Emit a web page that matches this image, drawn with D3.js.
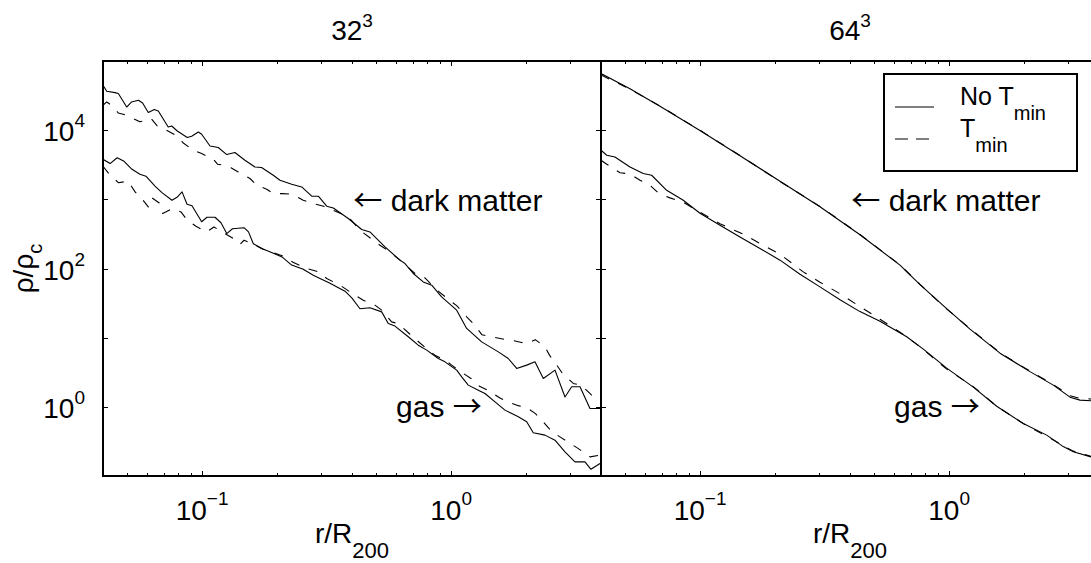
<!DOCTYPE html>
<html>
<head>
<meta charset="utf-8">
<script src="https://cdn.jsdelivr.net/npm/d3@7"></script>
<style>
  body { margin: 0; background: #fff; }
  svg { display: block; }
  text { font-family: "Liberation Sans", Arial, Helvetica, sans-serif; fill: #000; }
  .arrow { font-family: "Noto Sans CJK JP", "DejaVu Sans", sans-serif; }
</style>
</head>
<body>
<svg id="chart" width="1091" height="563"></svg>
<script>
// ---- Density profiles rho/rho_c against r/R200 ----

// 32^3 run: dark matter, no temperature floor
const r32DmNoTmin = [0.0400,0.0414,0.0447,0.0461,0.0498,0.0521,0.0555,0.0577,0.0608,0.0643,0.0667,0.0731,0.0755,0.0795,0.0872,0.0908,0.0966,0.0996,0.1076,0.1161,0.1256,0.1355,0.1486,0.1630,0.1734,0.1845,0.1932,0.2055,0.229,0.2512,0.2756,0.293,0.3166,0.3365,0.3865,0.4375,0.4721,0.5427,0.6235,0.653,0.705,0.773,0.836,0.916,1.053,1.155,1.327,1.548,1.697,1.834,2.012,2.172,2.346,2.614,2.867,3.050,3.294,3.612,3.963];
const rho32DmNoTmin = [44600,36500,34900,33800,21600,25600,27000,24700,18000,19900,18900,11100,11500,9730,7820,8170,9420,8730,5910,5610,4440,4750,3670,2940,2880,2490,2230,1890,1650,1510,1110,1110,795,751,528,366,338,205,132,118,84.7,64.0,57.4,38.9,25.0,13.6,8.70,6.23,5.00,3.59,4.01,4.47,2.57,3.39,1.39,1.95,1.95,0.948,0.948];

// 32^3 run: dark matter, with temperature floor
const r32DmTmin = [0.0400,0.0414,0.0433,0.0461,0.0498,0.0563,0.0599,0.0624,0.0659,0.0716,0.0802,0.0838,0.0922,0.0996,0.1109,0.1153,0.1225,0.1306,0.1397,0.1557,0.1656,0.1817,0.1932,0.2094,0.229,0.2548,0.2796,0.3166,0.3365,0.3865,0.4306,0.518,0.5512,0.6235,0.716,0.7857,0.8617,1.0055,1.053,1.155,1.2279,1.331,1.455,1.646,1.789,2.012,2.178,2.383,2.484,2.656,2.802,3.096,3.346,3.670,3.963];
const rho32DmTmin = [22900,25600,22900,17700,16400,13200,14100,14700,11600,10100,8030,6580,5120,4590,3800,3220,3110,2860,2490,2000,1600,1400,1210,1210,1190,971,869,776,696,557,357,217,188,132,84.7,73.1,51.4,32.9,29.0,20.0,16.0,11.0,10.3,9.42,9.05,8.19,9.36,7.36,5.59,4.01,3.04,2.18,2.03,1.48,1.54];

// 32^3 run: gas, no temperature floor
const r32GasNoTmin = [0.0400,0.0427,0.0456,0.0486,0.0523,0.0563,0.0595,0.0647,0.069,0.0757,0.0793,0.0831,0.0870,0.0911,0.0996,0.1046,0.1127,0.1191,0.1256,0.1325,0.1474,0.1536,0.1606,0.1748,0.1944,0.2094,0.229,0.2548,0.2796,0.2975,0.3263,0.3749,0.400,0.4306,0.4721,0.5263,0.5594,0.5951,0.673,0.738,0.798,0.8884,0.945,1.053,1.103,1.172,1.286,1.368,1.501,1.646,1.862,2.012,2.138,2.383,2.614,2.867,3.145,3.449,3.646,3.963];
const rho32GasNoTmin = [3800,3290,3990,3550,2720,2310,2160,1550,1250,971,1070,1280,849,809,474,551,551,459,320,376,389,338,228,193,165,147,112,97.7,80.0,71.7,61.3,47.0,37.2,26.2,27.1,23.6,16.0,14.7,10.3,7.79,6.60,5.00,4.47,3.39,2.71,2.06,1.74,1.56,1.18,0.896,0.717,0.607,0.421,0.390,0.330,0.224,0.160,0.160,0.125,0.152];

// 32^3 run: gas, with temperature floor
const r32GasTmin = [0.0400,0.0424,0.0461,0.0505,0.0538,0.0572,0.0608,0.0627,0.0673,0.0695,0.0762,0.0823,0.0872,0.0945,0.1043,0.1116,0.1225,0.1377,0.142,0.1474,0.1601,0.1756,0.1963,0.2113,0.2318,0.263,0.2975,0.3166,0.358,0.4111,0.444,0.4947,0.5263,0.5772,0.6137,0.6838,0.7276,0.8097,0.8617,0.945,1.0055,1.119,1.202,1.306,1.407,1.572,1.677,1.862,2.012,2.182,2.346,2.542,2.737,3.003,3.233,3.612,3.963];
const rho32GasTmin = [3010,2310,1740,1830,1280,1030,776,1060,887,623,736,658,499,408,338,399,324,256,224,256,224,190,166,151,123,100,88.4,71.7,57.4,41.1,34.8,29.5,25.0,16.9,16.0,11.2,9.20,6.60,5.59,4.73,4.01,3.04,2.57,1.96,1.74,1.34,1.19,1.04,0.974,0.798,0.607,0.435,0.368,0.296,0.251,0.189,0.200];

// 64^3 run: dark matter (both runs sampled at the same radii)
const r64Dm = [0.0400,0.0523,0.0690,0.0999,0.1446,0.2094,0.3030,0.4387,0.635,0.7642,0.9627,1.213,1.601,2.113,2.621,3.059,3.355,4.0];
const rho64DmNoTmin = [65800,39600,22100,9870,4270,1830,782,308,112,58.3,27.6,13.3,5.97,3.23,2.06,1.38,1.25,1.21];
const rho64DmTmin = [63000,39000,22400,9950,4300,1810,790,310,113,59.0,27.2,13.6,6.05,3.28,2.10,1.45,1.32,1.28];

// 64^3 run: gas, no temperature floor
const r64GasNoTmin = [0.0400,0.0422,0.0455,0.0523,0.0591,0.0639,0.0734,0.0856,0.0999,0.1202,0.1446,0.1740,0.2094,0.2519,0.3030,0.3646,0.4387,0.5278,0.6756,0.7879,0.978,1.251,1.553,1.986,2.466,2.874,3.153,3.715,4.0];
const rho64GasNoTmin = [5120,4340,4100,2940,2360,2230,1350,971,630,423,286,195,132,82.7,54.2,35.4,23.8,17.3,10.3,6.82,3.63,1.93,1.02,0.575,0.390,0.266,0.224,0.189,0.175];

// 64^3 run: gas, with temperature floor
const r64GasTmin = [0.0400,0.0422,0.0477,0.0523,0.0574,0.0629,0.0684,0.0757,0.0856,0.0999,0.1202,0.1491,0.1794,0.2094,0.2597,0.3030,0.3646,0.4387,0.5278,0.635,0.7642,0.978,1.251,1.553,1.986,2.466,2.874,3.153,3.715,4.0];
const rho64GasTmin = [3670,3220,2420,2330,1890,1600,1210,1050,908,651,444,313,217,161,89.3,63.4,43.2,28.1,18.5,12.0,7.41,3.51,1.96,1.02,0.572,0.377,0.275,0.229,0.192,0.178];

// Panel titles (resolution N^3)
const panelTitles = ["32", "64"];
const titleExponent = "3";

// Axis ticks
const xRange = [0.04, 4];
const yRange = [0.1, 1e5];
const xMajorTicks = [0.1, 1];
const xMajorExponents = ["\u22121", "0"];
const xMinorTicks = [0.05,0.06,0.07,0.08,0.09,0.2,0.3,0.4,0.5,0.6,0.7,0.8,0.9,2,3,4];
const yTicks = [0.1, 1, 10, 100, 1e3, 1e4, 1e5];
const yLabelTicks = [1, 100, 1e4];
const yLabelExponents = ["0", "2", "4"];

// Legend entries
const legendMain = ["No T", "T"];
const legendSub = ["min", "min"];

// Curve annotations (placed in data coordinates); arrow before or after the words
const annoWords = ["dark matter", "gas"];
const annoArrow = ["\u2190", "\u2192"];
const annoArrowFirst = [true, false];
const annoR = [0.405, 0.601];
const annoRho = [670, 0.717];

// ---- layout ----
const margin = { left: 103, top: 61, bottom: 476 };
const panelWidth = 498;
const dashCurve = "9,10";
const dashLegend = "13,8";

const panels = [
  { title: panelTitles[0], series: [
    { r: r32DmNoTmin, rho: rho32DmNoTmin, dashed: false },
    { r: r32DmTmin, rho: rho32DmTmin, dashed: true },
    { r: r32GasNoTmin, rho: rho32GasNoTmin, dashed: false },
    { r: r32GasTmin, rho: rho32GasTmin, dashed: true } ] },
  { title: panelTitles[1], series: [
    { r: r64Dm, rho: rho64DmNoTmin, dashed: false },
    { r: r64Dm, rho: rho64DmTmin, dashed: true },
    { r: r64GasNoTmin, rho: rho64GasNoTmin, dashed: false },
    { r: r64GasTmin, rho: rho64GasTmin, dashed: true } ] }
];

const svg = d3.select("#chart");
const y = d3.scaleLog().domain(yRange).range([margin.bottom, margin.top]);

panels.forEach((p, i) => {
  const x0 = margin.left + i * panelWidth;
  const x = d3.scaleLog().domain(xRange).range([x0, x0 + panelWidth]);
  const g = svg.append("g");

  const clipId = "clip" + i;
  svg.append("clipPath").attr("id", clipId)
    .append("rect").attr("x", x0).attr("y", margin.top)
    .attr("width", panelWidth).attr("height", margin.bottom - margin.top);

  const line = d3.line().x(d => x(d[0])).y(d => y(d[1]));

  // profiles
  p.series.forEach(s => {
    g.append("path")
      .datum(d3.zip(s.r, s.rho))
      .attr("d", line)
      .attr("clip-path", `url(#${clipId})`)
      .attr("fill", "none")
      .attr("stroke", "#000")
      .attr("stroke-width", 1.1)
      .attr("stroke-linejoin", "round")
      .attr("stroke-dasharray", s.dashed ? dashCurve : null);
  });

  // inward ticks on all four sides
  const addAxis = (axis, tx, ty) => {
    const a = g.append("g").attr("transform", `translate(${tx},${ty})`).call(axis);
    a.select(".domain").remove();
    a.selectAll("line").attr("stroke-width", 1).attr("shape-rendering", "crispEdges");
    a.selectAll("text").remove();
  };
  addAxis(d3.axisBottom(x).tickValues(xMajorTicks).tickSize(-5), 0, margin.bottom);
  addAxis(d3.axisBottom(x).tickValues(xMinorTicks).tickSize(-3), 0, margin.bottom);
  addAxis(d3.axisTop(x).tickValues(xMajorTicks).tickSize(-5), 0, margin.top);
  addAxis(d3.axisTop(x).tickValues(xMinorTicks).tickSize(-3), 0, margin.top);
  addAxis(d3.axisLeft(y).tickValues(yTicks).tickSize(-5), x0, 0);
  addAxis(d3.axisRight(y).tickValues(yTicks).tickSize(-5), x0 + panelWidth, 0);

  // frame
  g.append("rect")
    .attr("x", x0).attr("y", margin.top)
    .attr("width", panelWidth).attr("height", margin.bottom - margin.top)
    .attr("fill", "none").attr("stroke", "#000").attr("stroke-width", 1.6)
    .attr("shape-rendering", "crispEdges");

  // x tick labels 10^k
  xMajorTicks.forEach((v, k) => {
    const t = g.append("text").attr("x", x(v)).attr("y", 520)
      .attr("text-anchor", "middle").style("font-size", "28px");
    t.append("tspan").text("10");
    t.append("tspan").attr("dy", -15).style("font-size", "19px").text(xMajorExponents[k]);
  });

  // y tick labels, left panel only
  if (i === 0) {
    yLabelTicks.forEach((v, k) => {
      const t = g.append("text").attr("x", x0 - 18).attr("y", y(v) + 11)
        .attr("text-anchor", "end").style("font-size", "28px");
      t.append("tspan").text("10");
      t.append("tspan").attr("dy", -14).style("font-size", "19px").text(yLabelExponents[k]);
    });
    const yl = g.append("text")
      .attr("transform", `translate(33,${(margin.top + margin.bottom) / 2}) rotate(-90)`)
      .attr("text-anchor", "middle").style("font-size", "28px");
    yl.append("tspan").text("\u03c1/\u03c1");
    yl.append("tspan").attr("dy", 9).style("font-size", "20px").text("c");
  }

  // x axis label r/R200
  const xl = g.append("text").attr("x", x0 + panelWidth / 2).attr("y", 543)
    .attr("text-anchor", "middle").style("font-size", "28px");
  xl.append("tspan").text("r/R");
  xl.append("tspan").attr("dy", 15).style("font-size", "22px").text("200");

  // panel title N^3
  const tt = g.append("text").attr("x", x0 + panelWidth / 2).attr("y", 40)
    .attr("text-anchor", "middle").style("font-size", "28px");
  tt.append("tspan").text(p.title);
  tt.append("tspan").attr("dy", -13).style("font-size", "19px").text(titleExponent);

  // annotations with long thin arrows
  annoWords.forEach((w, k) => {
    const t = g.append("text").attr("x", x(annoR[k])).attr("y", y(annoRho[k]))
      .style("font-size", "30px");
    if (annoArrowFirst[k]) {
      t.append("tspan").attr("class", "arrow").style("font-size", "29px").text(annoArrow[k]);
      t.append("tspan").text(" " + w);
    } else {
      t.append("tspan").text(w + " ");
      t.append("tspan").attr("class", "arrow").style("font-size", "29px").text(annoArrow[k]);
    }
  });

  // legend in the 64^3 panel
  if (i === 1) {
    const lg = g.append("g");
    lg.append("rect").attr("x", 884).attr("y", 74).attr("width", 193).attr("height", 97)
      .attr("fill", "#fff").attr("stroke", "#000").attr("stroke-width", 1.6)
      .attr("shape-rendering", "crispEdges");
    const rows = [107, 139];
    rows.forEach((ry, k) => {
      lg.append("line").attr("x1", 895).attr("x2", 934).attr("y1", ry).attr("y2", ry)
        .attr("stroke", "#000").attr("stroke-width", 1)
        .attr("stroke-dasharray", k === 1 ? dashLegend : null);
      const t = lg.append("text").attr("x", 960).attr("y", ry - 2.5)
        .style("font-size", "25px");
      t.append("tspan").text(legendMain[k]);
      t.append("tspan").attr("dy", 15).style("font-size", "20px").text(legendSub[k]);
    });
  }
});
</script>
</body>
</html>
